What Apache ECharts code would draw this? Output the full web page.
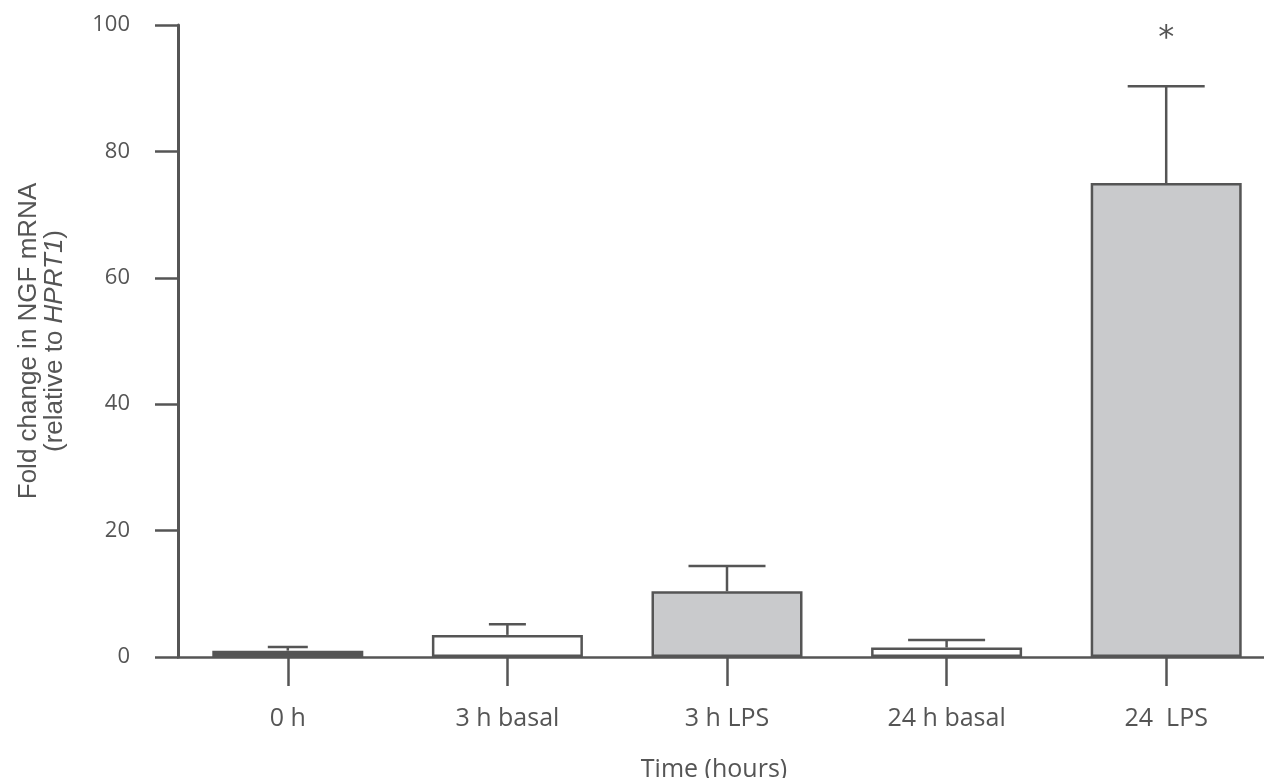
<!DOCTYPE html>
<html>
<head>
<meta charset="utf-8">
<script src="https://cdn.jsdelivr.net/npm/echarts@6/dist/echarts.min.js"></script>
<style>html,body{margin:0;padding:0;background:#fff}#c{width:1264px;height:778px}</style>
</head>
<body>
<div id="c"></div>
<script>
// data
var categories = ['0 h', '3 h basal', '3 h LPS', '24 h basal', '24  LPS'];
var means = [1.0, 3.5, 10.4, 1.5, 75.0];
var errorTops = [1.6, 5.2, 14.4, 2.7, 90.3];
var significance = ['', '', '', '', '*'];
var yTicks = [0, 20, 40, 60, 80, 100];

// styles
var fills = ['#555555', '#ffffff', '#c9cacc', '#ffffff', '#c9cacc'];
var capWidths = [40, 37, 77, 77, 77];
var ink = '#555555';
var font = '"Open Sans", "Noto Sans", sans-serif';
var nameFont = '"Liberation Sans", Arial, sans-serif';

var chart = echarts.init(document.getElementById('c'));
chart.setOption({
  animation: false,
  backgroundColor: '#ffffff',
  grid: { left: 178, right: -12, top: 25, bottom: 121, containLabel: false, outerBoundsMode: 'none' },
  xAxis: {
    type: 'category',
    data: categories,
    boundaryGap: true,
    axisLine: { show: true, lineStyle: { color: ink, width: 2.5 } },
    axisTick: { show: true, alignWithLabel: true, length: 29, lineStyle: { color: ink, width: 2.5 } },
    axisLabel: { show: true, color: ink, fontSize: 25, fontFamily: font, margin: 49 },
    splitLine: { show: false }
  },
  yAxis: {
    type: 'value',
    min: yTicks[0],
    max: yTicks[yTicks.length - 1],
    interval: yTicks[1] - yTicks[0],
    axisLine: { show: true, lineStyle: { color: ink, width: 3 } },
    axisTick: { show: true, length: 23, lineStyle: { color: ink, width: 2.5 } },
    axisLabel: { color: ink, fontSize: 22, fontFamily: font, margin: 48 },
    splitLine: { show: false },
    name: '{a|Fold change in NGF mRNA}\n{a|(relative to }{i|HPRT1}{a|)}',
    nameLocation: 'middle',
    nameGap: 110,
    nameTextStyle: {
      color: ink,
      fontFamily: nameFont,
      fontSize: 26,
      lineHeight: 26,
      rich: {
        a: { color: ink, fontFamily: nameFont, fontSize: 26, lineHeight: 26 },
        i: { color: ink, fontFamily: nameFont, fontSize: 26, lineHeight: 26, fontStyle: 'italic' }
      }
    }
  },
  series: [
    {
      type: 'bar',
      barWidth: 151,
      z: 2,
      data: means.map(function (v, i) {
        return { value: v, itemStyle: { color: fills[i], borderColor: ink, borderWidth: 2.5 } };
      })
    },
    {
      type: 'custom',
      z: 3,
      data: means.map(function (v, i) { return [i, v, errorTops[i]]; }),
      renderItem: function (params, api) {
        var i = api.value(0);
        var base = api.coord([i, api.value(1)]);
        var top = api.coord([i, api.value(2)]);
        var half = capWidths[params.dataIndex] / 2;
        var children = [
          { type: 'line', shape: { x1: base[0], y1: base[1], x2: top[0], y2: top[1] }, style: { stroke: ink, lineWidth: 2.5 } },
          { type: 'line', shape: { x1: top[0] - half, y1: top[1], x2: top[0] + half, y2: top[1] }, style: { stroke: ink, lineWidth: 2.5 } }
        ];
        var s = significance[params.dataIndex];
        if (s) {
          children.push({
            type: 'text',
            style: { text: s, x: top[0], y: top[1] - 48, align: 'center', verticalAlign: 'middle', fill: ink, font: '32px "DejaVu Sans", sans-serif' }
          });
        }
        return { type: 'group', children: children };
      }
    }
  ],
  graphic: [
    {
      type: 'text',
      x: 714,
      y: 770,
      style: { text: 'Time (hours)', align: 'center', verticalAlign: 'middle', fill: ink, font: '25px ' + font }
    }
  ]
});
</script>
</body>
</html>
